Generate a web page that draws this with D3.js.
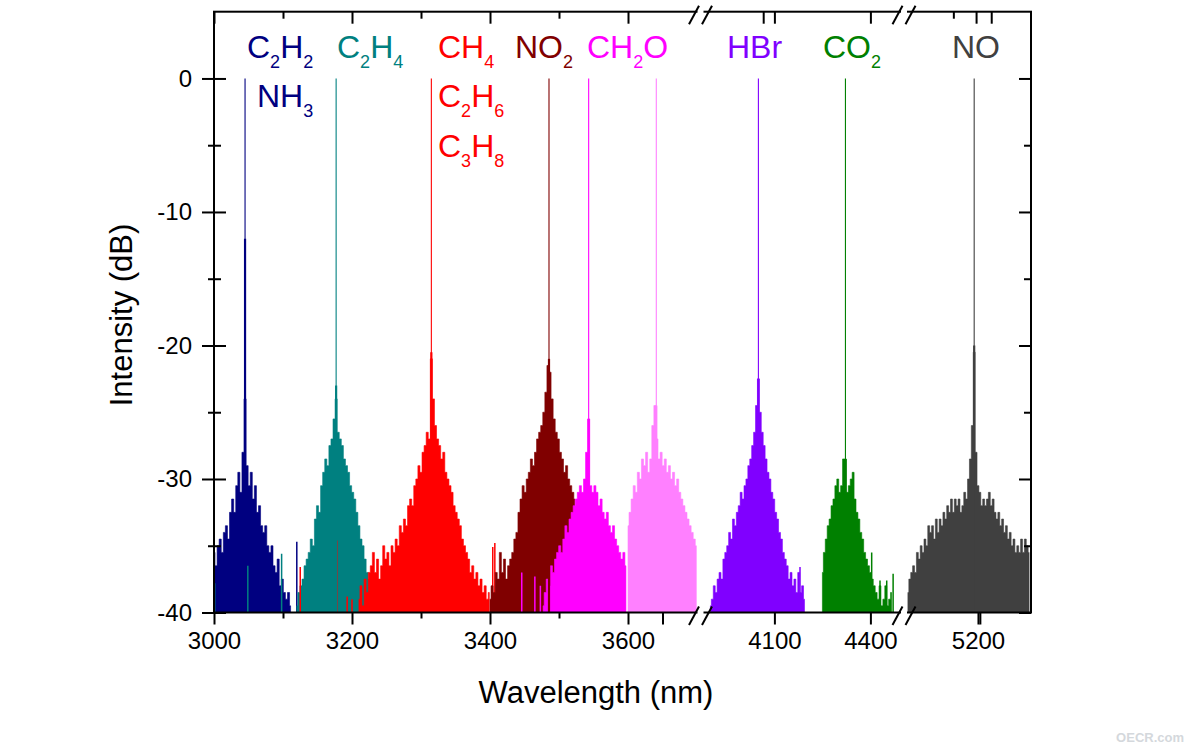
<!DOCTYPE html>
<html>
<head>
<meta charset="utf-8">
<script src="https://cdn.jsdelivr.net/npm/d3@7"></script>
<style>
  body { margin: 0; background: #fff; }
  svg { font-family: Arial, 'Liberation Sans', sans-serif; }
</style>
</head>
<body>
<div id="draw"></div>
<script>
// ---- data (wavelength in nm, intensity in dB) ----
const seriesNames = ['C2H2', 'C2H4', 'CH4', 'NO2', 'CH2O', 'CH2O-b', 'HBr', 'CO2', 'NO']
const seriesColors = ['#000080', '#008080', '#ff0000', '#800000', '#ff00ff', '#ff80ff', '#8000ff', '#008000', '#404040']
const seriesStart = [3000, 3120, 3210, 3400, 3477, 3600, 3900, 4250, 5015]
const seriesStep = [3, 3, 3, 3, 3, 3, 6, 6, 5]

const c2h2Db = [-35.5, -36.5, -35, -34.5, -35.5, -34, -33.5, -34.5, -32.5, -31.5, -32.5, -30.5, -29.5, -31, -28, -24, -29, -30.5, -29.5, -31.5, -30.5, -32.5, -32, -33.5, -34, -33.5, -35, -35.5, -35, -36.5, -37, -36, -38, -37.5, -38.5, -39, -38.5, -39.5]
const c2h4Db = [-39.5, -38.5, -38, -37.5, -36.5, -36, -35.5, -34.5, -35, -33, -32, -32.5, -30.5, -29.5, -28.5, -29, -27.5, -27, -25.5, -24, -26.5, -27, -27.5, -28.5, -29, -29.5, -30.5, -31, -31.5, -32.5, -33.5, -34.5, -35, -36, -37, -37.5, -38.5]
const ch4Db = [-39, -38, -39.5, -37.5, -38.5, -37, -36.5, -35.5, -37, -36, -37.5, -36.5, -35, -36, -35.5, -36.5, -35, -35.5, -34.5, -35, -33.5, -34, -33, -33.5, -32, -31.5, -32, -30.5, -30, -29, -29.5, -28, -27.5, -26.5, -27, -21, -24, -26, -27, -27.5, -28.5, -28, -29.5, -30, -30.5, -31, -32, -32.5, -33, -33.5, -34.5, -35, -35.5, -36, -37, -36.5, -37.5, -37, -38, -37.5, -38.5, -38, -39, -38.5]
const no2Db = [-39, -38, -38.5, -37, -37.5, -35.5, -37, -36, -37.5, -36.5, -36, -35.5, -34.5, -34, -32.5, -31.5, -30.5, -31, -30, -29.5, -28.5, -29, -28, -27, -26.5, -26, -25, -23.5, -21.5, -22, -24, -25.5, -26.5, -27, -28, -28.5, -29.5, -29, -30, -30.5, -31, -31.5]
const ch2oDb = [-39.5, -38.5, -37.5, -38, -36.5, -37, -36, -35.5, -35, -35.5, -34.5, -33.5, -34, -33, -32.5, -32, -31.5, -31, -30.5, -31, -30, -28, -25.5, -30.5, -31, -30.5, -31, -32, -31.5, -32.5, -33, -32.5, -33.5, -34, -33.5, -34.5, -35, -35.5, -36, -35.5, -36.5]
const ch2oBDb = [-33.5, -32.5, -31.5, -30.5, -31, -29.5, -30, -28.5, -29, -28, -29.5, -28.5, -26, -24.5, -27, -28.5, -28, -29, -28.5, -29.5, -29, -30, -29.5, -30.5, -30, -31, -31.5, -32, -32.5, -33, -33.5, -34, -34.5, -35]
const hbrDb = [-39.5, -39, -38, -38.5, -37.5, -37, -37.5, -36, -35.5, -35, -34, -34.5, -33, -33.5, -32.5, -32, -31, -31.5, -30.5, -30, -29, -28.5, -27.5, -26.5, -24.5, -22.5, -25, -26.5, -27.5, -28.5, -29.5, -30, -31, -31.5, -32.5, -33, -34, -34.5, -35.5, -36, -36.5, -37.5, -37, -38, -37.5, -38.5, -37, -38.5, -38, -39]
const co2Db = [-37, -35.5, -34.5, -33.5, -33, -32, -31.5, -30.5, -30, -31, -30.5, -28.5, -28.5, -31, -30.5, -30, -29.5, -31.5, -32.5, -33, -34, -34.5, -35.5, -36, -36.5, -37, -37.5, -38, -38.5, -39, -38, -39.5, -39, -38, -39.5, -39, -38.5]
const noDb = [-38.5, -37.5, -37, -36.5, -37, -35.5, -36, -35, -35.5, -34.5, -35, -33.5, -34, -33.5, -34.5, -33, -34, -33, -33.5, -32.5, -33, -32, -32.5, -31.5, -32.5, -31.5, -32, -31.5, -32.5, -32, -31, -31.5, -30, -28.5, -26, -20.5, -28, -30.5, -31, -32, -31.5, -32, -31.5, -31, -32, -31.5, -32.5, -33, -32.5, -33.5, -33, -34, -33.5, -34.5, -34, -35, -34.5, -35.5, -35, -35.5, -34.5, -35.5, -34.5, -35, -35.5]

// isolated lines outside the main envelopes [nm, dB]
const c2h2Spikes = [[3120, -34.7]]
const c2h4Spikes = [[3001, -37.8], [3049, -36.5], [3098, -35.6]]
const ch4Spikes = [[3125, -36.6], [3178, -34.6], [3193, -38.8], [3200, -39], [3404, -35.1], [3407, -34.8]]
const no2Spikes = []
const ch2oSpikes = [[3446, -37], [3465, -37.3], [3473, -38]]
const ch2oBSpikes = []
const hbrSpikes = [[4180, -36.6]]
const co2Spikes = [[4404, -35.5], [4430, -37.6], [4451, -37.6], [4471, -37.1]]
const noSpikes = []

// laser line of each source: position and height of its strong spike
const peakNm = [3045, 3177, 3315, 3485.5, 3543, 3641, 4050, 4322, 5190]
const peakCapDb = [-12, -23, -20.5, -21, -25.5, -24.5, -22.5, -28.5, -20]

const labelNames = ['C2H2', 'NH3', 'C2H4', 'CH4', 'C2H6', 'C3H8', 'NO2', 'CH2O', 'HBr', 'CO2', 'NO']
const labelSeries = [0, 0, 1, 2, 2, 2, 3, 4, 6, 7, 8]

// broken x axis
const segDomain = [[3000, 3700], [3880, 4500], [5010, 5340]]
const bottomLabelTicks = [[3000, 3200, 3400, 3600], [4100, 4400], [5200]]
const bottomExtraTicks = [[3650], [], [5205]]
const bottomMinorTicks = [[3100, 3300, 3500], [], []]
const topTicks = [[3000, 3200, 3400, 3600], [4065, 4100, 4400], [5195, 5235]]
const topMinorTicks = [[3100, 3300, 3500], [], [5135]]
const yMajor = [-40, -30, -20, -10, 0]
const yMinor = [-35, -25, -15, -5]

// ---- layout ----
const W = 1196
const H = 751
const plotLeft = 214
const plotRight = 1031
const plotTop = 11.7
const plotBottom = 612.5
const segRange = [[214, 697], [704, 902.4], [906, 1031]]
const breakX = [700.5, 904]
const labelX = [247, 257, 337, 438, 438, 438, 515, 587, 727, 823, 952]
const labelY = [58, 107, 58, 58, 107, 157, 58, 58, 58, 58, 58]

const svg = d3.select('#draw')
  .append('svg')
  .attr('width', W)
  .attr('height', H)

const xSegs = segDomain.map((d, i) => d3.scaleLinear().domain(d).range(segRange[i]))
function x (nm) {
  let i = segDomain.findIndex(d => nm >= d[0] && nm <= d[1])
  if (i < 0) i = 0
  return xSegs[i](nm)
}
const y = d3.scaleLinear().domain([-40, 5]).range([plotBottom, plotTop])

const seriesDb = [c2h2Db, c2h4Db, ch4Db, no2Db, ch2oDb, ch2oBDb, hbrDb, co2Db, noDb]
const seriesSpikes = [c2h2Spikes, c2h4Spikes, ch4Spikes, no2Spikes, ch2oSpikes, ch2oBSpikes, hbrSpikes, co2Spikes, noSpikes]

const series = seriesNames.map((name, i) => ({
  name: name,
  color: seriesColors[i],
  points: seriesDb[i].map((db, j) => ({ nm: seriesStart[i] + seriesStep[i] * j, db: db })),
  spikes: seriesSpikes[i],
  peak: peakNm[i],
  cap: peakCapDb[i]
}))

svg.append('clipPath')
  .attr('id', 'plotclip')
  .append('rect')
  .attr('x', plotLeft)
  .attr('y', plotTop)
  .attr('width', plotRight - plotLeft)
  .attr('height', plotBottom - plotTop)

const plot = svg.append('g').attr('clip-path', 'url(#plotclip)')

const area = d3.area()
  .x(d => x(d.nm))
  .y0(y(-40))
  .y1(d => y(d.db))
  .curve(d3.curveStep)

series.forEach(s => {
  const g = plot.append('g').attr('class', 'spectrum')
  g.append('path')
    .datum(s.points)
    .attr('d', area)
    .attr('fill', s.color)
    .attr('stroke', s.color)
    .attr('stroke-width', 0.6)

  g.selectAll('.spike')
    .data(s.spikes)
    .enter().append('line')
    .attr('class', 'spike')
    .attr('x1', d => x(d[0]))
    .attr('x2', d => x(d[0]))
    .attr('y1', y(-40))
    .attr('y2', d => y(d[1]))
    .attr('stroke', s.color)
    .attr('stroke-width', 1.5)
})

// laser lines
series.forEach(s => {
  plot.append('line')
    .attr('x1', x(s.peak)).attr('x2', x(s.peak))
    .attr('y1', y(-40)).attr('y2', y(s.cap))
    .attr('stroke', s.color)
    .attr('stroke-width', 2.2)
  plot.append('line')
    .attr('x1', x(s.peak)).attr('x2', x(s.peak))
    .attr('y1', y(-40)).attr('y2', y(0))
    .attr('stroke', s.color)
    .attr('stroke-width', 1.1)
})

// ---- axes ----
function styleAxis (g) {
  g.select('.domain').remove()
  g.selectAll('.tick line').attr('stroke', '#000').attr('stroke-width', 2)
  g.selectAll('.tick text').style('font-size', '24px').attr('fill', '#000')
}

xSegs.forEach((sc, i) => {
  svg.append('g')
    .attr('transform', 'translate(0,' + plotBottom + ')')
    .call(d3.axisBottom(sc).tickValues(bottomLabelTicks[i]).tickSize(12).tickPadding(7).tickFormat(d => String(d)))
    .call(styleAxis)
  svg.append('g')
    .attr('transform', 'translate(0,' + plotBottom + ')')
    .call(d3.axisBottom(sc).tickValues(bottomExtraTicks[i]).tickSize(12).tickFormat(''))
    .call(styleAxis)
  svg.append('g')
    .attr('transform', 'translate(0,' + plotBottom + ')')
    .call(d3.axisBottom(sc).tickValues(bottomMinorTicks[i]).tickSize(6).tickFormat(''))
    .call(styleAxis)
  svg.append('g')
    .attr('transform', 'translate(0,' + plotTop + ')')
    .call(d3.axisTop(sc).tickValues(topTicks[i]).tickSize(-12).tickFormat(''))
    .call(styleAxis)
  svg.append('g')
    .attr('transform', 'translate(0,' + plotTop + ')')
    .call(d3.axisTop(sc).tickValues(topMinorTicks[i]).tickSize(-7).tickFormat(''))
    .call(styleAxis)
})

// left ticks cross the axis line, right ticks point inward
svg.append('g')
  .attr('transform', 'translate(' + plotLeft + ',0)')
  .call(d3.axisLeft(y).tickValues(yMajor).tickSize(12).tickPadding(10).tickFormat(d => String(d)))
  .call(styleAxis)
  .selectAll('.tick line').attr('x1', 12)
svg.append('g')
  .attr('transform', 'translate(' + plotLeft + ',0)')
  .call(d3.axisLeft(y).tickValues(yMinor).tickSize(6).tickFormat(''))
  .call(styleAxis)
  .selectAll('.tick line').attr('x1', 7)
svg.append('g')
  .attr('transform', 'translate(' + plotRight + ',0)')
  .call(d3.axisRight(y).tickValues(yMajor).tickSize(-12).tickFormat(''))
  .call(styleAxis)
svg.append('g')
  .attr('transform', 'translate(' + plotRight + ',0)')
  .call(d3.axisRight(y).tickValues(yMinor).tickSize(-7).tickFormat(''))
  .call(styleAxis)

// frame
svg.append('rect')
  .attr('x', plotLeft)
  .attr('y', plotTop)
  .attr('width', plotRight - plotLeft)
  .attr('height', plotBottom - plotTop)
  .attr('fill', 'none')
  .attr('stroke', '#000')
  .attr('stroke-width', 2)

// axis break marks
breakX.forEach(bx => {
  [plotTop, plotBottom].forEach(ay => {
    svg.append('rect')
      .attr('x', bx - 3)
      .attr('y', ay - 2)
      .attr('width', 6)
      .attr('height', 4)
      .attr('fill', '#fff')
    ;[-11.5, 1.5].forEach(off => {
      svg.append('line')
        .attr('x1', bx + off).attr('y1', ay + 12.5)
        .attr('x2', bx + off + 10).attr('y2', ay - 6)
        .attr('stroke', '#000')
        .attr('stroke-width', 2)
    })
  })
})

// gas labels with subscripts
function chem (text, formula, big, small) {
  let shifted = false
  formula.split(/(\d+)/).filter(s => s.length).forEach(part => {
    const sub = /^\d+$/.test(part)
    let dy = 0
    if (sub && !shifted) dy = 10
    if (!sub && shifted) dy = -10
    shifted = sub
    text.append('tspan')
      .attr('dy', dy)
      .style('font-size', (sub ? small : big) + 'px')
      .text(part)
  })
}

labelNames.forEach((name, i) => {
  const t = svg.append('text')
    .attr('x', labelX[i])
    .attr('y', labelY[i])
    .attr('fill', seriesColors[labelSeries[i]])
  chem(t, name, 32, 18)
})

// axis titles
svg.append('text')
  .attr('x', 596)
  .attr('y', 703)
  .attr('text-anchor', 'middle')
  .style('font-size', '31px')
  .text('Wavelength (nm)')

svg.append('text')
  .attr('transform', 'translate(132,315) rotate(-90)')
  .attr('text-anchor', 'middle')
  .style('font-size', '31px')
  .text('Intensity (dB)')

svg.append('text')
  .attr('x', 1184)
  .attr('y', 742)
  .attr('text-anchor', 'end')
  .style('font-size', '13px')
  .style('font-weight', 'bold')
  .attr('fill', '#d4d8dc')
  .text('OECR.com')
</script>
</body>
</html>
